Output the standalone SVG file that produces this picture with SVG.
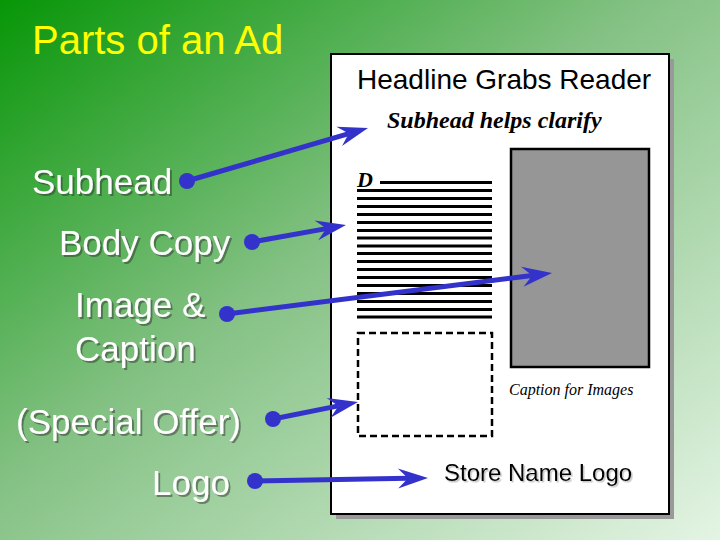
<svg xmlns="http://www.w3.org/2000/svg" width="720" height="540" viewBox="0 0 720 540">
<defs>
<linearGradient id="bg" x1="0" y1="0" x2="1" y2="1">
<stop offset="0" stop-color="#079607"/>
<stop offset="0.45" stop-color="#84c184"/>
<stop offset="1" stop-color="#e4f4e4"/>
</linearGradient>
<filter id="sh" x="-10%" y="-20%" width="120%" height="150%">
<feDropShadow dx="2" dy="2" stdDeviation="0.6" flood-color="#333" flood-opacity="0.5"/>
</filter>
<filter id="sh2" x="-10%" y="-20%" width="120%" height="150%">
<feDropShadow dx="1.5" dy="1.5" stdDeviation="0.5" flood-color="#888" flood-opacity="0.5"/>
</filter>
<marker id="head" viewBox="-32 -12 34 24" refX="-20" refY="0" markerWidth="34" markerHeight="24" markerUnits="userSpaceOnUse" orient="auto">
<path d="M0,0 L-30,-10 L-20,0 L-30,10 Z" fill="#3333cc"/>
</marker>
<marker id="dot" viewBox="-9 -9 18 18" refX="0" refY="0" markerWidth="18" markerHeight="18" markerUnits="userSpaceOnUse">
<circle r="8" fill="#3333cc"/>
</marker>
</defs>
<style>
.lbl{font-family:"Liberation Sans",Arial,sans-serif;font-size:35px;fill:#ffffff;filter:url(#sh)}
.conn{stroke:#3333cc;stroke-width:5;fill:none;marker-start:url(#dot);marker-end:url(#head)}
.rule{stroke:#000;stroke-width:3}
</style>
<rect x="0" y="0" width="720" height="540" fill="url(#bg)"/>
<text x="32" y="54" font-family="'Liberation Sans',Arial,sans-serif" font-size="40" fill="#ffff00">Parts of an Ad</text>

<g id="ad">
<rect x="336" y="59" width="338" height="460" fill="#999999"/>
<rect x="331" y="54" width="338" height="460" fill="#ffffff" stroke="#000" stroke-width="2"/>
<text x="357" y="89" font-family="'Liberation Sans',Arial,sans-serif" font-size="28" fill="#000">Headline Grabs Reader</text>
<text x="387" y="128" font-family="'Liberation Serif','Times New Roman',serif" font-size="24" font-style="italic" font-weight="bold" fill="#000">Subhead helps clarify</text>
<text x="357" y="187" font-family="'Liberation Serif','Times New Roman',serif" font-size="22" font-style="italic" font-weight="bold" fill="#000">D</text>
<g id="bodycopy">
<line class="rule" x1="380" y1="182.5" x2="492" y2="182.5"/>
<line class="rule" x1="357" y1="190.5" x2="492" y2="190.5"/>
<line class="rule" x1="357" y1="198.5" x2="492" y2="198.5"/>
<line class="rule" x1="357" y1="206.5" x2="492" y2="206.5"/>
<line class="rule" x1="357" y1="214.5" x2="492" y2="214.5"/>
<line class="rule" x1="357" y1="222.5" x2="492" y2="222.5"/>
<line class="rule" x1="357" y1="230.5" x2="492" y2="230.5"/>
<line class="rule" x1="357" y1="238" x2="492" y2="238"/>
<line class="rule" x1="357" y1="246" x2="492" y2="246"/>
<line class="rule" x1="357" y1="253.5" x2="492" y2="253.5"/>
<line class="rule" x1="357" y1="261.5" x2="492" y2="261.5"/>
<line class="rule" x1="357" y1="269.5" x2="492" y2="269.5"/>
<line class="rule" x1="357" y1="277.5" x2="492" y2="277.5"/>
<line class="rule" x1="357" y1="285.5" x2="492" y2="285.5"/>
<line class="rule" x1="357" y1="293.5" x2="492" y2="293.5"/>
<line class="rule" x1="357" y1="301.5" x2="492" y2="301.5"/>
<line class="rule" x1="357" y1="309.5" x2="492" y2="309.5"/>
<line class="rule" x1="357" y1="317" x2="492" y2="317"/>
</g>
<rect id="image" x="511" y="149" width="138" height="218" fill="#969696" stroke="#000" stroke-width="2.5"/>
<text x="509" y="395" font-family="'Liberation Serif','Times New Roman',serif" font-size="16" font-style="italic" fill="#000">Caption for Images</text>
<rect id="offer" x="358" y="333" width="134" height="103" fill="none" stroke="#000" stroke-width="2.5" stroke-dasharray="7,4"/>
<text x="444" y="481" font-family="'Liberation Sans',Arial,sans-serif" font-size="24" fill="#000" filter="url(#sh2)">Store Name Logo</text>
</g>

<g id="label-subhead"><text class="lbl" x="32" y="194">Subhead</text></g>
<g id="label-body"><text class="lbl" x="59" y="255">Body Copy</text></g>
<g id="label-image"><text class="lbl" x="75" y="317">Image &amp;</text><text class="lbl" x="75" y="361">Caption</text></g>
<g id="label-offer"><text class="lbl" x="16" y="434">(Special Offer)</text></g>
<g id="label-logo"><text class="lbl" x="152" y="495">Logo</text></g>

<g id="connectors">
<line class="conn" x1="187" y1="181" x2="348.8" y2="133.6"/>
<line class="conn" x1="252" y1="242" x2="326.3" y2="228.6"/>
<line class="conn" x1="227" y1="314" x2="532.2" y2="275.5"/>
<line class="conn" x1="273" y1="419" x2="338.4" y2="405.9"/>
<line class="conn" x1="255" y1="481" x2="408" y2="478.3"/>
</g>
</svg>
